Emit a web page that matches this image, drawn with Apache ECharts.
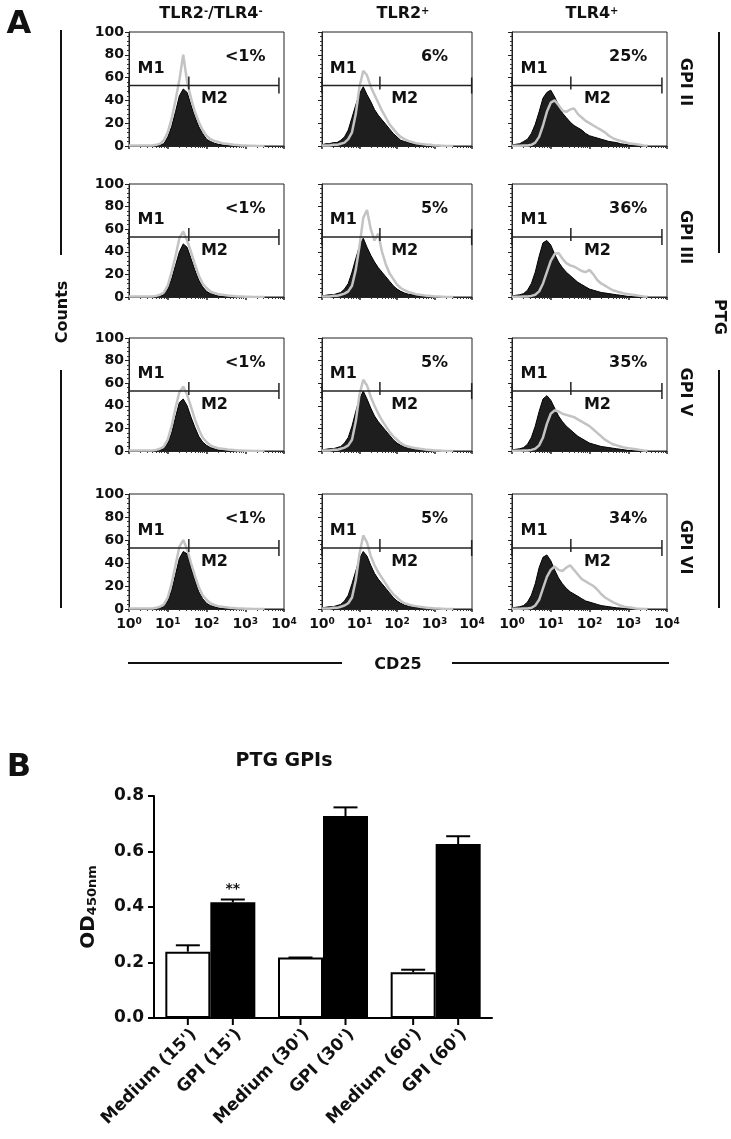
<!DOCTYPE html>
<html><head><meta charset="utf-8">
<script src="https://cdn.jsdelivr.net/npm/echarts@6/dist/echarts.min.js"></script>
<style>html,body{margin:0;padding:0;background:#fff}#c{width:731px;height:1139px}</style>
</head><body><div id="c"></div>
<script>
// ================= DATA =================
const columnTitles = [['TLR2', '-', '/TLR4', '-'], ['TLR2', '+'], ['TLR4', '+']];
const rowTitles = ['GPI II', 'GPI III', 'GPI V', 'GPI VI'];
const xTickExponents = ['0', '1', '2', '3', '4'];
// histogram bins: log10(CD25 fluorescence)
const logBins = [0,0.1,0.2,0.3,0.4,0.5,0.6,0.7,0.8,0.9,1,1.1,1.2,1.3,1.4,1.5,1.6,1.7,1.8,1.9,2,2.1,2.2,2.3,2.4,2.5,2.6,2.7,2.8,2.9,3,3.1,3.2,3.3,3.4,3.5];

// GPI II
const gpi2_dn_fill   = [0,0,0,0,0,0,0.5,0.5,1,2,8,17,30,44,50,47,36,26,17,11,6,4,2.5,1.5,1,0.5,0.3,0,0,0,0,0,0,0,0,0];
const gpi2_dn_line   = [0.5,0.5,0.5,0.5,0.5,0.5,0.5,1,2,5,12,24,40,58,80,56,42,30,21,14,9,6,4.5,3.5,2.5,2,1.5,1,0.8,0.5,0.5,0.3,0.3,0,0,0];
const gpi2_tlr2_fill = [1,2,2,3,3,5,8,14,25,36,46,52,45,39,32,27,23,19,15,11,8,5,4,3,2,1.5,1,0.5,0.5,0.3,0,0,0,0,0,0];
const gpi2_tlr2_line = [0.5,0.5,0.5,1,1,2,3,6,12,28,52,66,62,52,45,38,31,25,19,15,11,8,6,4.5,3.5,2.5,2,1.5,1,1,0.5,0.5,0.3,0,0,0];
const gpi2_tlr4_fill = [1,1.5,2,4,6,11,19,30,42,47,49,43,36,29,25,21,18,16,14,11,9,8,7,6,5,4,3.5,3,2,1.5,1,0.5,0.3,0,0,0];
const gpi2_tlr4_line = [0.3,0.3,0.3,0.5,0.5,1,3,8,18,30,38,40,36,31,30,32,33,28,25,22,20,18,16,14,12,9,7,5.5,4.5,3.5,2.5,2,1.5,1,0.5,0.3];
// GPI III
const gpi3_dn_fill   = [0,0,0,0,0,0,0.3,0.5,1,2,7,16,28,40,47,44,34,24,15,9,5,3,2,1,0.5,0.3,0,0,0,0,0,0,0,0,0,0];
const gpi3_dn_line   = [0.5,0.5,0.5,0.5,0.5,0.5,0.5,1,2,4,10,22,36,52,58,50,40,29,19,12,8,5,3.5,2.5,2,1.5,1,0.8,0.5,0.5,0.3,0.3,0,0,0,0];
const gpi3_tlr2_fill = [1,1.5,2,2,3,4,7,12,22,34,45,52,44,37,31,26,22,18,14,10,7,5,3.5,2.5,2,1.5,1,0.5,0.3,0,0,0,0,0,0,0];
const gpi3_tlr2_line = [0.5,0.5,0.5,1,1,2,3,5,10,24,45,70,77,60,50,56,40,29,21,16,11,8,6,4.5,3.5,2.5,2,1.5,1,0.8,0.5,0.5,0.3,0,0,0];
const gpi3_tlr4_fill = [1,1.5,2,3,6,12,22,36,48,50,46,38,31,26,22,19,16,13,11,9,7,6,5,4,3.5,3,2.5,2,1.5,1,0.5,0.3,0,0,0,0];
const gpi3_tlr4_line = [0.3,0.3,0.3,0.5,0.5,1,2,5,12,22,32,38,39,34,30,28,27,25,23,22,24,20,15,12,10,8,6,5,4,3,2.5,2,1.5,1,0.5,0.3];
// GPI V
const gpi5_dn_fill   = [0,0,0,0,0,0,0.3,0.5,1,2,7,16,30,43,46,40,30,21,13,8,5,3,2,1,0.5,0.3,0,0,0,0,0,0,0,0,0,0];
const gpi5_dn_line   = [0.5,0.5,0.5,0.5,0.5,0.5,0.5,1,2,4,10,22,38,52,57,50,39,28,19,12,8,5,3.5,2.5,2,1.5,1,0.8,0.5,0.5,0.3,0.3,0,0,0,0];
const gpi5_tlr2_fill = [1,1.5,2,2,3,4,7,12,22,35,46,53,46,38,31,26,22,18,14,10,7,5,3.5,2.5,2,1.5,1,0.5,0.3,0,0,0,0,0,0,0];
const gpi5_tlr2_line = [0.5,0.5,0.5,1,1,2,3,5,10,26,50,63,58,48,40,33,27,22,17,13,10,7,5,4,3,2.5,2,1.5,1,0.8,0.5,0.5,0.3,0,0,0];
const gpi5_tlr4_fill = [1,1.5,2,3,6,12,22,35,46,49,45,38,31,26,22,19,16,13,11,9,7,6,5,4,3.5,3,2.5,2,1.5,1,0.5,0.3,0,0,0,0];
const gpi5_tlr4_line = [0.3,0.3,0.3,0.5,0.5,1,2,5,12,24,33,36,35,33,32,31,30,28,26,24,22,19,16,13,10,8,6,5,4,3,2.5,2,1.5,1,0.5,0.3];
// GPI VI
const gpi6_dn_fill   = [0,0,0,0,0,0,0.3,0.5,1,2,7,16,30,44,50,48,36,25,15,9,5,3,2,1,0.5,0.3,0,0,0,0,0,0,0,0,0,0];
const gpi6_dn_line   = [0.5,0.5,0.5,0.5,0.5,0.5,0.5,1,2,4,10,22,38,54,60,52,40,29,19,12,8,5,3.5,2.5,2,1.5,1,0.8,0.5,0.5,0.3,0.3,0,0,0,0];
const gpi6_tlr2_fill = [1,1.5,2,2,3,4,7,12,22,33,44,50,46,38,31,26,22,18,14,10,7,5,3.5,2.5,2,1.5,1,0.5,0.3,0,0,0,0,0,0,0];
const gpi6_tlr2_line = [0.5,0.5,0.5,1,1,2,3,5,10,25,48,64,58,46,38,32,27,22,17,13,10,7,5,4,3,2.5,2,1.5,1,0.8,0.5,0.5,0.3,0,0,0];
const gpi6_tlr4_fill = [1,1.5,2,3,6,12,22,36,45,47,42,34,27,22,18,15,13,11,9,7,6,5,4,3,2.5,2,1.5,1,0.8,0.5,0.3,0,0,0,0,0];
const gpi6_tlr4_line = [0.3,0.3,0.3,0.5,0.5,1,3,8,18,28,34,37,34,33,36,38,34,30,26,24,22,20,17,13,10,8,6,4.5,3,2,1.5,1,0.5,0.3,0,0];

// % of cells in M2 gate
const pctGPI2 = ['<1%', '6%', '25%'];
const pctGPI3 = ['<1%', '5%', '36%'];
const pctGPI5 = ['<1%', '5%', '35%'];
const pctGPI6 = ['<1%', '5%', '34%'];

// M1 / M2 gate limits (CD25 fluorescence), per column
const gateStart = [1, 1, 1];
const gateSplit = [35, 35, 33];
const gateEnd = [7400, 9800, 7400];
const gateCount = 53;

// Panel B
const groupLabels = ["15'", "30'", "60'"];
const barLabels = ["Medium (15')", "GPI (15')", "Medium (30')", "GPI (30')", "Medium (60')", "GPI (60')"];
const mediumOD = [0.239, 0.218, 0.165];
const mediumSEM = [0.023, 0.0, 0.009];
const gpiOD = [0.417, 0.728, 0.627];
const gpiSEM = [0.010, 0.031, 0.028];
const sigMarks = ['', '**', '', '', '', ''];

// ================= LAYOUT =================
const FONT = 'DejaVu Sans';
const colLeft = [129, 322, 512];
const colWidth = [155, 150, 155];
const rowTop = [32, 184, 338, 494];
const rowHeight = [114, 113, 113, 115];

const fills = [
  [gpi2_dn_fill, gpi2_tlr2_fill, gpi2_tlr4_fill],
  [gpi3_dn_fill, gpi3_tlr2_fill, gpi3_tlr4_fill],
  [gpi5_dn_fill, gpi5_tlr2_fill, gpi5_tlr4_fill],
  [gpi6_dn_fill, gpi6_tlr2_fill, gpi6_tlr4_fill]
];
const lines = [
  [gpi2_dn_line, gpi2_tlr2_line, gpi2_tlr4_line],
  [gpi3_dn_line, gpi3_tlr2_line, gpi3_tlr4_line],
  [gpi5_dn_line, gpi5_tlr2_line, gpi5_tlr4_line],
  [gpi6_dn_line, gpi6_tlr2_line, gpi6_tlr4_line]
];
const pcts = [pctGPI2, pctGPI3, pctGPI5, pctGPI6];

const toPairs = vals => logBins.map((b, i) => [Math.pow(10, b), vals[i]]);
const boldText = (size) => ({fontFamily: FONT, fontWeight: 'bold', fontSize: size, fill: '#111'});

const grid = [], xAxis = [], yAxis = [], series = [];

for (let r = 0; r < 4; r++) {
  for (let c = 0; c < 3; c++) {
    const g = grid.length;
    grid.push({left: colLeft[c], top: rowTop[r], width: colWidth[c], height: rowHeight[r],
      show: true, borderColor: '#222', borderWidth: 1, backgroundColor: 'transparent'});
    xAxis.push({gridIndex: g, type: 'log', logBase: 10, min: 1, max: 10000, splitNumber: 4,
      axisLine: {show: true, lineStyle: {color: '#222', width: 1}},
      axisTick: {show: true, length: 3, lineStyle: {color: '#222', width: 1.5}},
      minorTick: {show: true, splitNumber: 9, length: 2, lineStyle: {color: '#333'}},
      splitLine: {show: false}, minorSplitLine: {show: false},
      axisLabel: {show: r === 3, margin: 8,
        formatter: v => '{b|10}{s|' + xTickExponents[Math.round(Math.log10(v))] + '}',
        rich: {b: {fontFamily: FONT, fontWeight: 'bold', fontSize: 14, color: '#111'},
               s: {fontFamily: FONT, fontWeight: 'bold', fontSize: 9, color: '#111', verticalAlign: 'top'}}}
    });
    yAxis.push({gridIndex: g, type: 'value', min: 0, max: 100, interval: 20,
      axisLine: {show: true, lineStyle: {color: '#222', width: 1}},
      axisTick: {show: true, length: 4, lineStyle: {color: '#222'}},
      minorTick: {show: true, splitNumber: 5, length: 2, lineStyle: {color: '#333'}},
      splitLine: {show: false},
      axisLabel: {show: c === 0, margin: 5, fontFamily: FONT, fontWeight: 'bold', fontSize: 14, color: '#111'}
    });
    series.push({type: 'line', xAxisIndex: g, yAxisIndex: g, data: toPairs(fills[r][c]), symbol: 'none',
      lineStyle: {color: '#000', width: 1}, areaStyle: {color: '#1e1e1e', opacity: 1}, z: 2, silent: true});
    series.push({type: 'line', xAxisIndex: g, yAxisIndex: g, data: toPairs(lines[r][c]), symbol: 'none',
      lineStyle: {color: '#c3c3c3', width: 2.5}, z: 3, silent: true});
    const pctText = pcts[r][c];
    series.push({type: 'custom', xAxisIndex: g, yAxisIndex: g, data: [[1, 0]], z: 5, clip: false, silent: true,
      renderItem: (params, api) => {
        const a = api.coord([gateStart[c], gateCount]);
        const m = api.coord([gateSplit[c], gateCount]);
        const b = api.coord([gateEnd[c], gateCount]);
        const pM1 = api.coord([3.7, 68]);
        const pM2 = api.coord([160, 41]);
        const pP = api.coord([1000, 78]);
        const ls = {stroke: '#222', lineWidth: 1.5};
        const txt = (t, p) => ({type: 'text', x: p[0], y: p[1],
          style: Object.assign({text: t, align: 'center', verticalAlign: 'middle'}, boldText(16))});
        return {type: 'group', children: [
          {type: 'line', shape: {x1: a[0], y1: a[1], x2: b[0], y2: b[1]}, style: ls},
          {type: 'line', shape: {x1: a[0], y1: a[1] - 8, x2: a[0], y2: a[1] + 8}, style: ls},
          {type: 'line', shape: {x1: m[0], y1: m[1] - 9, x2: m[0], y2: m[1] + 4}, style: ls},
          {type: 'line', shape: {x1: b[0], y1: b[1] - 8, x2: b[0], y2: b[1] + 8}, style: ls},
          txt('M1', pM1), txt('M2', pM2), txt(pctText, pP)
        ]};
      }});
  }
}

// ---- Panel B ----
const gB = grid.length;
const BAR_W = 45;
grid.push({left: 154, top: 796, width: 338, height: 222});
xAxis.push({gridIndex: gB, type: 'category', data: groupLabels,
  axisLine: {show: true, lineStyle: {color: '#000', width: 2}},
  axisTick: {show: false}, axisLabel: {show: false}});
yAxis.push({gridIndex: gB, type: 'value', min: 0, max: 0.8, interval: 0.2,
  axisLine: {show: true, lineStyle: {color: '#000', width: 2}},
  axisTick: {show: true, length: 6, lineStyle: {color: '#000', width: 2}},
  splitLine: {show: false},
  axisLabel: {formatter: v => v.toFixed(1), margin: 10, fontFamily: FONT, fontWeight: 'bold', fontSize: 17, color: '#111'},
  name: '{a|OD}{s|450nm}', nameLocation: 'middle', nameRotate: 90, nameGap: 55,
  nameTextStyle: {rich: {
    a: {fontFamily: FONT, fontWeight: 'bold', fontSize: 20, color: '#111'},
    s: {fontFamily: FONT, fontWeight: 'bold', fontSize: 13, color: '#111', verticalAlign: 'bottom'}}}
});
series.push({type: 'bar', name: 'Medium', xAxisIndex: gB, yAxisIndex: gB, data: mediumOD, barWidth: BAR_W, barGap: '0%',
  itemStyle: {color: '#fff', borderColor: '#000', borderWidth: 2}, z: 2});
series.push({type: 'bar', name: 'GPI', xAxisIndex: gB, yAxisIndex: gB, data: gpiOD, barWidth: BAR_W, barGap: '0%',
  itemStyle: {color: '#000', borderColor: '#000', borderWidth: 2}, z: 2});
const errData = [];
groupLabels.forEach((_, i) => {
  errData.push([i, mediumOD[i], mediumSEM[i], 0, i * 2]);
  errData.push([i, gpiOD[i], gpiSEM[i], 1, i * 2 + 1]);
});
series.push({type: 'custom', xAxisIndex: gB, yAxisIndex: gB, data: errData, z: 4, clip: false, silent: true,
  renderItem: (params, api) => {
    const i = api.value(0), v = api.value(1), e = api.value(2), side = api.value(3) === 0 ? -1 : 1, k = api.value(4);
    const base = api.coord([i, v]);
    const top = api.coord([i, v + e]);
    const zero = api.coord([i, 0]);
    const cx = base[0] + side * BAR_W / 2;
    const ls = {stroke: '#000', lineWidth: 2};
    const kids = [
      {type: 'line', shape: {x1: cx, y1: base[1], x2: cx, y2: top[1]}, style: ls},
      {type: 'line', shape: {x1: cx - 12, y1: top[1], x2: cx + 12, y2: top[1]}, style: ls},
      {type: 'line', shape: {x1: cx, y1: zero[1], x2: cx, y2: zero[1] + 7}, style: ls},
      {type: 'text', x: cx + 6, y: zero[1] + 14, rotation: Math.PI / 4,
        style: Object.assign({text: barLabels[k], align: 'right', verticalAlign: 'middle'}, boldText(17))}
    ];
    if (sigMarks[k]) {
      kids.push({type: 'text', x: cx, y: top[1] - 10,
        style: {text: sigMarks[k], align: 'center', verticalAlign: 'middle', fontFamily: FONT, fontWeight: 'bold', fontSize: 14, fill: '#111'}});
    }
    return {type: 'group', children: kids};
  }});

// ---- decorations ----
const T = (text, x, y, size, rot) => ({type: 'text', x: x, y: y, rotation: rot || 0,
  style: Object.assign({text: text, align: 'center', verticalAlign: 'middle'}, boldText(size))});
const L = (x1, y1, x2, y2) => ({type: 'line', shape: {x1, y1, x2, y2}, style: {stroke: '#111', lineWidth: 2}});
const supRich = {n: {fontFamily: FONT, fontWeight: 'bold', fontSize: 16, fill: '#111'},
                 s: {fontFamily: FONT, fontWeight: 'bold', fontSize: 10, fill: '#111', verticalAlign: 'top'}};
const headerText = parts => parts.map((p, i) => (i % 2 === 0 ? '{n|' : '{s|') + p + '}').join('');
const headerX = [211, 403, 592];
const labelY = [82, 237, 392, 547];

const graphic = [
  T('A', 19, 25, 32),
  T('B', 19, 768, 32),
  T('PTG GPIs', 284, 761, 19),
  T('Counts', 63, 312, 16, Math.PI / 2),
  T('PTG', 719, 317, 16, -Math.PI / 2),
  T('CD25', 398, 665, 16),
  L(61, 30, 61, 255), L(61, 370, 61, 608),
  L(719, 32, 719, 253), L(719, 370, 719, 608),
  L(128, 663, 342, 663), L(452, 663, 669, 663)
];
columnTitles.forEach((parts, c) => {
  graphic.push({type: 'text', x: headerX[c], y: 14,
    style: {text: headerText(parts), rich: supRich, align: 'center', verticalAlign: 'middle',
      fontFamily: FONT, fontWeight: 'bold', fontSize: 16, fill: '#111'}});
});
rowTitles.forEach((t, r) => graphic.push(T(t, 685, labelY[r], 16, -Math.PI / 2)));

const chart = echarts.init(document.getElementById('c'), null, {renderer: 'canvas'});
chart.setOption({animation: false, backgroundColor: '#fff', grid, xAxis, yAxis, series, graphic});
</script></body></html>
